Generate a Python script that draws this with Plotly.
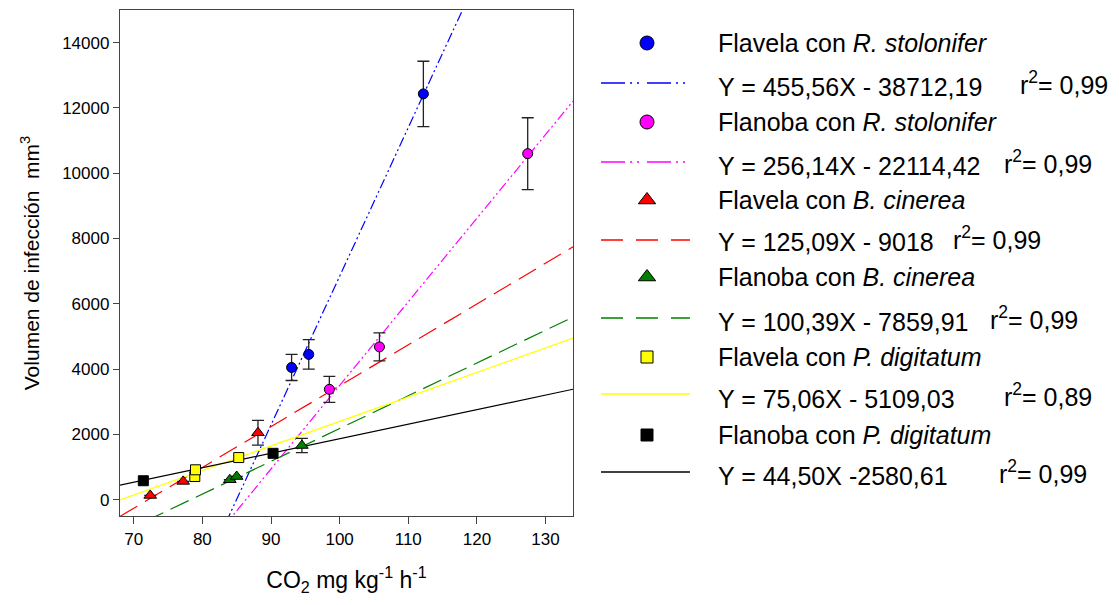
import plotly.graph_objects as go

# ---------------- data ----------------
series_names = [
    "Flavela con <i>R. stolonifer</i>",
    "Flanoba con <i>R. stolonifer</i>",
    "Flavela con <i>B. cinerea</i>",
    "Flanoba con <i>B. cinerea</i>",
    "Flavela con <i>P. digitatum</i>",
    "Flanoba con <i>P. digitatum</i>",
]
fr_x = [93.0, 95.5, 112.2]
fr_y = [4050, 4450, 12430]
fr_err = [400, 450, 1000]

nr_x = [98.5, 105.8, 127.4]
nr_y = [3380, 4680, 10600]
nr_err = [400, 430, 1100]

fb_x = [72.4, 77.2, 88.1]
fb_y = [130, 560, 2050]
fb_err = [None, None, 380]

nb_x = [84.0, 85.0, 94.5]
nb_y = [610, 710, 1660]
nb_err = [None, None, 220]

fp_x = [78.9, 79.0, 85.3]
fp_y = [710, 915, 1290]
fp_err = [None, None, None]

np_x = [71.4, 90.3]
np_y = [580, 1420]
np_err = [None, None]

slopes = [455.56, 256.14, 125.09, 100.39, 75.06, 44.50]
intercepts = [-38712.19, -22114.42, -9018.0, -7859.91, -5109.03, -2580.61]
eq_text = [
    "Y = 455,56X - 38712,19",
    "Y = 256,14X - 22114,42",
    "Y = 125,09X - 9018",
    "Y = 100,39X - 7859,91",
    "Y = 75,06X - 5109,03",
    "Y = 44,50X -2580,61",
]
r2_text = ["0,99", "0,99", "0,99", "0,99", "0,89", "0,99"]

x_ticks = [70, 80, 90, 100, 110, 120, 130]
y_ticks = [0, 2000, 4000, 6000, 8000, 10000, 12000, 14000]
y_tick_labels = ["0", "2000", "4000", "6000", "8000", "10000", "12000", "14000"]
x_line_span = [68, 134]

# ---------------- styles ----------------
colors = ["#0000ff", "#ff00ff", "#ff0000", "#008000", "#ffff00", "#000000"]
symbols = ["circle", "circle", "triangle-up", "triangle-up", "square", "square"]
msizes = [10, 10, 11, 11, 10, 10]
leg_msizes = [14, 14, 15, 15, 12, 12]
dashes = ["10px,3px,2px,3px,2px,3px", "10px,3px,2px,3px,2px,3px",
          "20px,9px", "20px,8px", "solid", "solid"]
leg_dashes = ["24px,5px,2px,5px,2px,8px", "24px,5px,2px,5px,2px,8px",
              "22px,13px", "22px,13px", "solid", "solid"]

FONT = "Liberation Sans, Arial, sans-serif"
LEG_SIZE = 25

xs = [fr_x, nr_x, fb_x, nb_x, fp_x, np_x]
ys = [fr_y, nr_y, fb_y, nb_y, fp_y, np_y]
errs = [fr_err, nr_err, fb_err, nb_err, fp_err, np_err]

fig = go.Figure()

# regression lines
for i in range(6):
    ly = [slopes[i] * x + intercepts[i] for x in x_line_span]
    fig.add_trace(go.Scatter(
        x=x_line_span, y=ly, mode="lines",
        line=dict(color=colors[i], width=1.2, dash=dashes[i]),
        showlegend=False, hoverinfo="skip"))

# data points
for i in range(6):
    err = errs[i]
    has_err = any(e is not None for e in err)
    fig.add_trace(go.Scatter(
        x=xs[i], y=ys[i], mode="markers",
        marker=dict(symbol=symbols[i], size=msizes[i], color=colors[i],
                    line=dict(color="black", width=1)),
        error_y=dict(type="data", array=[e if e is not None else float("nan") for e in err],
                     visible=has_err, color="#222222", thickness=1.3, width=6),
        showlegend=False, name=series_names[i]))

# ---------------- custom legend (on hidden axes, pixel-like units) ----------------
marker_row_y = [43, 122, 200, 277, 357, 435]
line_row_y = [83, 162, 240, 318, 394, 472]
eq_row_y = [87, 166, 242, 322, 399, 476]
r2_x = [1018, 1002, 951, 988, 1002, 997]
sym_x = 647
line_x = [601, 690]
text_x = 716

annotations = []
for i in range(6):
    fig.add_trace(go.Scatter(
        x=[sym_x], y=[marker_row_y[i]], mode="markers", xaxis="x2", yaxis="y2",
        marker=dict(symbol=symbols[i], size=leg_msizes[i], color=colors[i],
                    line=dict(color="black", width=1)),
        showlegend=False, hoverinfo="skip", cliponaxis=False))
    fig.add_trace(go.Scatter(
        x=line_x, y=[line_row_y[i], line_row_y[i]], mode="lines", xaxis="x2", yaxis="y2",
        line=dict(color=colors[i], width=1.5, dash=leg_dashes[i]),
        showlegend=False, hoverinfo="skip"))
    annotations.append(dict(x=text_x, y=marker_row_y[i], xref="x2", yref="y2",
                            text=series_names[i], showarrow=False,
                            xanchor="left", yanchor="middle",
                            font=dict(family=FONT, size=LEG_SIZE, color="black")))
    annotations.append(dict(x=text_x, y=eq_row_y[i], xref="x2", yref="y2",
                            text=eq_text[i], showarrow=False,
                            xanchor="left", yanchor="middle",
                            font=dict(family=FONT, size=LEG_SIZE, color="black")))
    annotations.append(dict(x=r2_x[i], y=eq_row_y[i], xref="x2", yref="y2",
                            text="r<sup>2</sup>= " + r2_text[i], showarrow=False,
                            xanchor="left", yanchor="middle", yshift=4,
                            font=dict(family=FONT, size=LEG_SIZE, color="black")))

W, H = 1119, 605
ml, mr, mt, mb = 120, 0, 10, 89
pw = W - ml - mr
x_dom_end = 453 / pw
x2_start = 0.47
x2_px0 = ml + x2_start * pw

fig.update_layout(
    width=W, height=H,
    margin=dict(l=ml, r=mr, t=mt, b=mb),
    paper_bgcolor="white", plot_bgcolor="white",
    font=dict(family=FONT, size=17, color="black"),
    showlegend=False,
    xaxis=dict(domain=[0, x_dom_end], range=[68, 134], tickvals=x_ticks,
               ticks="outside", ticklen=7, tickwidth=1, tickcolor="#444",
               showline=True, linecolor="#444", linewidth=1.3, mirror=True,
               showgrid=False, zeroline=False,
               tickfont=dict(family=FONT, size=17, color="black"),
               title=dict(text="CO<sub>2</sub> mg kg<sup>-1</sup> h<sup>-1</sup>",
                          font=dict(family=FONT, size=23, color="black"), standoff=24)),
    yaxis=dict(domain=[0, 1], range=[-500, 15000], tickvals=y_ticks,
               ticktext=y_tick_labels,
               ticks="outside", ticklen=6, tickwidth=1, tickcolor="#444",
               showline=True, linecolor="#444", linewidth=1.3, mirror=True,
               showgrid=False, zeroline=False,
               tickfont=dict(family=FONT, size=17, color="black"),
               title=dict(text="Volumen de infección  mm<sup>3</sup>",
                          font=dict(family=FONT, size=21, color="black"), standoff=16)),
    xaxis2=dict(domain=[x2_start, 1], range=[x2_px0, W], visible=False,
                fixedrange=True, anchor="y2"),
    yaxis2=dict(domain=[0, 1], range=[H - mb, mt], visible=False,
                fixedrange=True, anchor="x2"),
    annotations=annotations,
)

fig.write_html("out.html")
